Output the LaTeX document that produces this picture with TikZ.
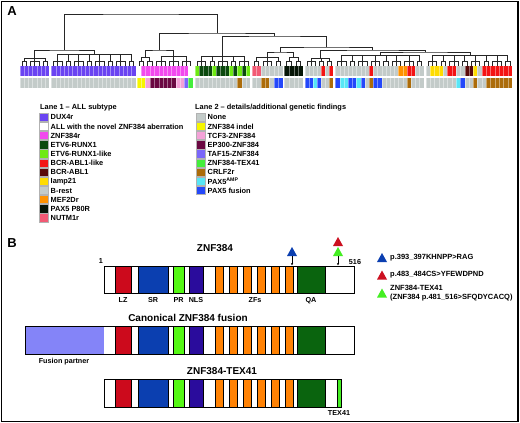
\documentclass[tikz,border=0pt]{standalone}
\usepackage{fontspec}
\setmainfont{Liberation Sans}
\usetikzlibrary{calc,arrows.meta}
\definecolor{dux}{HTML}{6A44F2}
\definecolor{znfr}{HTML}{F24AEE}
\definecolor{etv}{HTML}{0B4A0E}
\definecolor{etvl}{HTML}{6EEA12}
\definecolor{bcrl}{HTML}{F41414}
\definecolor{bcr}{HTML}{5A0A0A}
\definecolor{iamp}{HTML}{FFDC00}
\definecolor{brest}{HTML}{C3CBC9}
\definecolor{mef}{HTML}{FF9200}
\definecolor{pax}{HTML}{071607}
\definecolor{nutm}{HTML}{F25A74}
\definecolor{indel}{HTML}{F6F600}
\definecolor{tcf}{HTML}{F4A2D8}
\definecolor{ep}{HTML}{6A0842}
\definecolor{taf}{HTML}{7A66FA}
\definecolor{tex}{HTML}{44EE3C}
\definecolor{crlf}{HTML}{AC6C0A}
\definecolor{amp}{HTML}{58E6F6}
\definecolor{paxf}{HTML}{2448FA}
\definecolor{lzc}{HTML}{CC0A1C}
\definecolor{src}{HTML}{0B3FB0}
\definecolor{prc}{HTML}{55F814}
\definecolor{nlsc}{HTML}{2A0C9C}
\definecolor{zfc}{HTML}{FF8204}
\definecolor{qac}{HTML}{0A640E}
\definecolor{fpc}{HTML}{8484F8}
\definecolor{texc}{HTML}{44EE22}
\definecolor{triblue}{HTML}{0B3FB0}
\definecolor{trired}{HTML}{CC1020}
\definecolor{trigreen}{HTML}{44EE22}

\newcommand\cellrow[4]{%
  \foreach \clr [count=\i from 0] in {#4}{%
    \fill[fill=\clr] ({#1+\i*#2},#3) rectangle ({#1+(\i+1)*#2+0.05},{#3+10});
    \draw[cellsep, white!40!\clr] ({#1+\i*#2},#3) -- ++(0,10);}}

\newcommand\grp[7]{%
  \cellrow{#2}{#3}{65.5}{#6}%
  \cellrow{#2}{#3}{77.5}{#7}%
  \gdef\dK{0}\gdef\firstm{}%
  \foreach \s in {#5}{%
    \pgfmathsetmacro\dA{#2+(\dK+0.5)*#3}%
    \pgfmathsetmacro\dB{#2+(\dK+\s-0.5)*#3}%
    \pgfmathsetmacro\dM{(\dA+\dB)/2}%
    \foreach \j in {1,...,\s}{\draw[tree] ({#2+(\dK+\j-0.5)*#3},65.5) -- ++(0,-4.5);}%
    \draw[tree] (\dA,61) -- (\dB,61);
    \draw[tree] (\dM,61) -- (\dM,#4);
    \ifx\firstm\empty\xdef\firstm{\dM}\fi
    \xdef\lastm{\dM}%
    \pgfmathtruncatemacro\dN{\dK+\s}\xdef\dK{\dN}%
  }%
  \draw[tree] (\firstm,#4) -- (\lastm,#4);
  \coordinate (#1) at ({(\firstm+\lastm)/2},#4);
}

\newcommand\tjoin[4]{%
  \path ($(#1)!0.5!(#2)$) coordinate (#4m);
  \coordinate (#4) at (#4m |- 0,#3);
  \draw[tree] (#1) |- (#4) -| (#2);
}

\newcommand\prot[3]{%
  \fill[white] (104,#1) rectangle (#3,#2);
  \filldraw[dom, fill=lzc] (115,#1) rectangle (131,#2);
  \filldraw[dom, fill=src] (138,#1) rectangle (168,#2);
  \filldraw[dom, fill=prc] (173,#1) rectangle (184,#2);
  \filldraw[dom, fill=nlsc] (189,#1) rectangle (203,#2);
  \foreach \z in {215,229,243,257,271,285}{\filldraw[dom, fill=zfc] (\z,#1) rectangle ({\z+8},#2);}
  \filldraw[dom, fill=qac] (297,#1) rectangle (325,#2);
}

\begin{document}
\begin{tikzpicture}[x=1pt,y=-1pt,
  tree/.style={line width=0.7pt, black!85},
  cellsep/.style={line width=0.3pt},
  sw/.style={draw=black!30, line width=0.4pt},
  leg/.style={font=\fontsize{7.4}{8}\selectfont\bfseries, anchor=west, inner sep=0pt},
  legtitle/.style={font=\fontsize{7.4}{8}\selectfont\bfseries, anchor=west, inner sep=0pt},
  dom/.style={draw=black, line width=0.8pt},
  bartitle/.style={font=\fontsize{10}{11}\selectfont\bfseries, inner sep=0pt},
  lbl/.style={font=\fontsize{7.2}{8}\selectfont\bfseries, inner sep=0pt},
  bleg/.style={font=\fontsize{7.5}{8}\selectfont\bfseries, anchor=west, inner sep=0pt},
  panel/.style={font=\fontsize{13}{14}\selectfont\bfseries, inner sep=0pt}]
\useasboundingbox (0,0) rectangle (520,423);
\fill[white] (0,0) rectangle (520,423);
\draw[line width=1.2pt] (1.5,1.5) rectangle (518,421.5);

\node[panel] (lA) at (12,11.5) {A};
\node[panel] (lB) at (12,243) {B};

% ---- groups: name, x0, w, ytop, chunks, lane1, lane2
\grp{g1}{20}{4.2}{58}{2,3,2}{dux,dux,dux,dux,dux,dux,dux}{brest,brest,brest,brest,brest,brest,brest}
\grp{g2}{51.5}{4.2}{54}{3,2,3,2,3,2,3,2}{dux,dux,dux,dux,dux,dux,dux,dux,dux,dux,dux,dux,dux,dux,dux,dux,dux,dux,dux,dux}{brest,brest,brest,brest,brest,brest,brest,brest,brest,brest,brest,brest,brest,brest,brest,brest,brest,brest,brest,brest}
\grp{g3a}{137}{4.25}{57}{2,2}{white,znfr,znfr,znfr}{indel,indel,tcf,ep}
\grp{g3b}{154.5}{4.25}{56}{3,3,3}{znfr,znfr,znfr,znfr,znfr,znfr,znfr,znfr,white}{ep,ep,ep,ep,ep,tcf,tcf,taf,tex}
\grp{g4}{195}{4.25}{56}{3,2,3,2,3}{etvl,etv,etv,etv,etvl,etv,etv,etv,etvl,etv,etvl,etv,etvl}{brest,brest,brest,brest,brest,brest,brest,brest,brest,brest,crlf,brest,brest}
\grp{g5}{252}{4.4}{57}{2,3,2}{nutm,nutm,brest,brest,brest,brest,brest}{brest,brest,crlf,crlf,brest,paxf,paxf}
\grp{g6}{284.5}{4.6}{57}{2,2}{pax,pax,pax,pax}{brest,brest,brest,brest}
\grp{g7}{305}{4.05}{58}{3,2,2}{brest,brest,brest,brest,bcrl,brest,bcrl}{paxf,paxf,amp,paxf,brest,brest,crlf}
\grp{g8}{335.5}{4.2}{55}{3,2,3,3,2,3,3,2}{brest,brest,brest,brest,brest,brest,brest,brest,bcrl,brest,brest,brest,brest,brest,brest,mef,mef,bcrl,bcrl,brest,brest}{paxf,amp,amp,paxf,paxf,amp,paxf,brest,crlf,paxf,paxf,brest,brest,brest,brest,brest,brest,crlf,brest,brest,brest}
\grp{g9}{426}{4.3}{55}{3,2,3,2,3,2,3,2}{brest,iamp,iamp,iamp,brest,bcrl,bcrl,brest,brest,bcr,bcr,iamp,brest,bcrl,bcrl,bcrl,bcrl,bcrl,bcrl,bcrl}{brest,brest,brest,brest,brest,brest,brest,amp,paxf,brest,brest,crlf,brest,brest,crlf,crlf,crlf,crlf,crlf,crlf}

% ---- upper tree
\tjoin{g1}{g2}{50}{nL}
\tjoin{g3a}{g3b}{50}{nP}
\tjoin{g5}{g6}{52}{n56}
\tjoin{g8}{g9}{52}{n89}
\tjoin{g7}{n89}{50}{n789}
\tjoin{n56}{n789}{47}{nQ}
\tjoin{g4}{nQ}{36}{nE}
\tjoin{nP}{nE}{33}{nR}
\tjoin{nL}{nR}{14}{root}

% ---- legends
\node[legtitle] (t1) at (40,107.5) {Lane 1 – ALL subtype};
\node[legtitle] (t2) at (195,107.5) {Lane 2 – details/additional genetic findings};
\foreach \clr/\txt [count=\i from 0] in {dux/DUX4r, white/ALL with the novel ZNF384 aberration, znfr/ZNF384r, etv/ETV6-RUNX1, etvl/ETV6-RUNX1-like, bcrl/BCR-ABL1-like, bcr/BCR-ABL1, iamp/Iamp21, brest/B-rest, mef/MEF2Dr, pax/PAX5 P80R, nutm/NUTM1r}{%
  \filldraw[sw, fill=\clr] (39,{113+\i*9.15}) rectangle ++(9,8.3);
  \node[leg] (la\i) at (50.5,{117.4+\i*9.15}) {\txt};
}
\foreach \clr/\txt [count=\i from 0] in {brest/None, indel/ZNF384 indel, tcf/TCF3-ZNF384, ep/EP300-ZNF384, taf/TAF15-ZNF384, tex/ZNF384-TEX41, crlf/CRLF2r, amp/{PAX5\textsuperscript{AMP}}, paxf/PAX5 fusion}{%
  \filldraw[sw, fill=\clr] (196,{113+\i*9.15}) rectangle ++(9,8.3);
  \node[leg] (lb\i) at (207.5,{117.4+\i*9.15}) {\txt};
}

% ---- Panel B
\node[bartitle] (tz) at (215,248) {ZNF384};
\prot{266}{293}{354}
\draw[dom] (104,266) rectangle (354,293);
\node[lbl, anchor=east] (n1) at (103,261) {1};
\node[lbl] (n516) at (355,262) {516};
\foreach \t/\x in {LZ/123, SR/153, PR/178.5, NLS/196, ZFs/255, QA/311}{\node[lbl] (d\t) at (\x,300.5) {\t};}

\fill[triblue] (292,247) -- (297,256) -- (287,256) -- cycle;
\fill[trired] (338,237) -- (343,246) -- (333,246) -- cycle;
\fill[trigreen] (338,247) -- (343,256) -- (333,256) -- cycle;
\draw[line width=0.5pt, -{Stealth[length=2.5pt,width=2.2pt]}] (292,256) -- (292,265.5);
\draw[line width=0.5pt, -{Stealth[length=2.5pt,width=2.2pt]}] (338,256) -- (338,265.5);

\fill[triblue] (382,253) -- (387,262) -- (377,262) -- cycle;
\fill[trired] (382,270.5) -- (387,279.5) -- (377,279.5) -- cycle;
\fill[trigreen] (382,288.5) -- (387,297.5) -- (377,297.5) -- cycle;
\node[bleg] (m1) at (390,258) {p.393\_397KHNPP>RAG};
\node[bleg] (m2) at (390,275) {p.483\_484CS>YFEWDPND};
\node[bleg] (m3) at (390,288) {ZNF384-TEX41};
\node[bleg] (m4) at (390,298) {(ZNF384 p.481\_516>SFQDYCACQ)};

\node[bartitle] (tc) at (188,318) {Canonical ZNF384 fusion};
\fill[fpc] (25,326) rectangle (104,354);
\draw[dom] (104,326) -- (104,354);
\prot{326}{354}{354}
\draw[dom] (25,326) rectangle (354,354);
\node[lbl] (fp) at (64,361.5) {Fusion partner};

\node[bartitle] (tt) at (222,371) {ZNF384-TEX41};
\prot{379}{407}{341}
\filldraw[dom, fill=texc] (337,379) rectangle (341,407);
\draw[dom] (104,379) rectangle (341,407);
\node[lbl] (tx) at (339,413.5) {TEX41};
\end{tikzpicture}
\end{document}
